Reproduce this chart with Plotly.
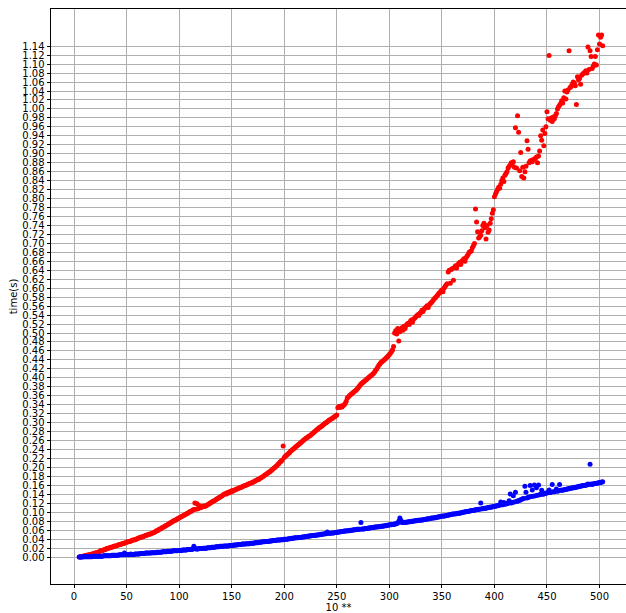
import plotly.graph_objects as go

# x values (problem size index)
x_vals = list(range(5, 504))

# red series, time in milliseconds
red_time_ms = [
    0, 1, 1, 2, 2, 3, 3, 4, 4, 5,
    5, 6, 7, 7, 8, 9, 10, 10, 11, 12,
    14, 14, 15, 16, 17, 17, 19, 20, 20, 21,
    22, 22, 23, 24, 25, 25, 26, 27, 28, 28,
    29, 30, 31, 31, 32, 33, 34, 34, 35, 36,
    37, 38, 38, 39, 40, 41, 42, 43, 44, 45,
    45, 46, 47, 48, 49, 50, 51, 51, 52, 53,
    54, 55, 56, 58, 59, 60, 62, 63, 64, 66,
    67, 68, 70, 71, 72, 74, 75, 77, 78, 80,
    81, 82, 83, 85, 86, 87, 89, 90, 91, 93,
    94, 95, 97, 98, 99, 101, 102, 103, 105, 106,
    121, 107, 119, 108, 115, 110, 111, 112, 114, 113,
    114, 115, 117, 118, 120, 121, 123, 124, 125, 127,
    128, 130, 131, 133, 134, 136, 137, 139, 140, 142,
    141, 144, 143, 146, 145, 148, 147, 149, 150, 151,
    152, 153, 154, 155, 156, 157, 158, 159, 160, 161,
    162, 163, 164, 165, 166, 167, 168, 169, 171, 172,
    173, 174, 176, 177, 179, 180, 182, 184, 185, 187,
    189, 190, 192, 194, 196, 198, 200, 202, 204, 207,
    209, 212, 214, 216, 248, 222, 225, 227, 229, 231,
    233, 236, 238, 240, 242, 244, 246, 248, 250, 252,
    254, 256, 258, 260, 262, 264, 266, 267, 269, 270,
    272, 274, 276, 278, 280, 282, 284, 286, 288, 290,
    291, 293, 295, 297, 299, 300, 302, 304, 306, 307,
    309, 310, 312, 313, 315, 317, 333, 336, 334, 337,
    335, 338, 340, 343, 348, 355, 357, 360, 362, 364,
    366, 368, 370, 372, 374, 377, 380, 383, 386, 388,
    390, 392, 394, 396, 398, 400, 402, 404, 406, 408,
    410, 413, 417, 420, 424, 428, 431, 434, 436, 438,
    440, 442, 444, 447, 449, 452, 455, 458, 462, 470,
    500, 505, 498, 510, 482, 503, 508, 512, 506, 515,
    510, 517, 520, 522, 519, 526, 529, 524, 531, 533,
    536, 538, 541, 539, 544, 546, 551, 548, 553, 556,
    558, 561, 557, 563, 566, 568, 571, 574, 577, 579,
    582, 585, 588, 590, 593, 596, 592, 600, 604, 607,
    610, 636, 640, 611, 642, 644, 618, 647, 650, 645,
    652, 655, 658, 653, 660, 663, 666, 660, 668, 672,
    675, 680, 682, 683, 690, 695, 700, 777, 748, 726,
    712, 715, 718, 728, 740, 745, 735, 710, 740, 725,
    730, 745, 755, 767, 775, 804, 810, 815, 820, 825,
    823, 832, 840, 846, 838, 852, 856, 860, 868, 872,
    875, 880, 878, 882, 870, 958, 868, 985, 948, 862,
    903, 849, 870, 846, 860, 872, 929, 910, 880, 884,
    885, 882, 887, 888, 890, 893, 880, 895, 906, 940,
    930, 953, 918, 945, 960, 994, 978, 1119, 975, 980,
    972, 982, 978, 985, 990, 1000, 1005, 1008, 1012, 1018,
    1013, 1025, 1040, 1022, 1038, 1042, 1130, 1048, 1050, 1055,
    1060, 1058, 1052, 1010, 1072, 1065, 1068, 1055, 1075, 1078,
    1080, 1082, 1085, 1080, 1138, 1088, 1130, 1117, 1090, 1095,
    1100, 1117, 1098, 1132, 1165, 1145, 1160, 1165, 1141,
]

# blue series, time in milliseconds
blue_time_ms = [
    0, 0, 0, 0, 1, 1, 1, 1, 1, 1,
    1, 1, 1, 2, 2, 2, 2, 2, 2, 2,
    2, 2, 2, 3, 3, 3, 3, 3, 3, 3,
    3, 4, 4, 4, 4, 4, 4, 4, 5, 5,
    5, 5, 5, 9, 5, 5, 6, 5, 6, 7,
    6, 6, 6, 7, 7, 7, 7, 7, 8, 8,
    8, 8, 8, 9, 9, 9, 9, 9, 9, 10,
    10, 10, 10, 10, 11, 11, 11, 11, 11, 12,
    12, 12, 12, 12, 13, 13, 13, 13, 13, 14,
    14, 14, 14, 14, 15, 15, 15, 15, 16, 16,
    16, 16, 16, 17, 17, 17, 17, 17, 18, 24,
    19, 18, 18, 18, 19, 19, 19, 19, 20, 20,
    20, 20, 21, 21, 21, 21, 22, 22, 22, 22,
    23, 23, 23, 23, 24, 24, 24, 24, 25, 25,
    25, 25, 25, 26, 26, 26, 26, 27, 27, 27,
    27, 28, 28, 28, 28, 29, 29, 29, 29, 30,
    30, 30, 30, 31, 31, 31, 31, 32, 32, 32,
    32, 33, 33, 33, 34, 34, 34, 35, 35, 35,
    35, 36, 36, 36, 37, 37, 37, 37, 38, 38,
    38, 38, 39, 39, 39, 40, 40, 40, 40, 41,
    41, 41, 42, 42, 42, 43, 43, 43, 43, 44,
    44, 44, 45, 45, 45, 46, 46, 46, 47, 47,
    47, 48, 48, 48, 49, 49, 49, 50, 50, 50,
    51, 51, 51, 52, 52, 52, 56, 53, 53, 53,
    54, 54, 54, 55, 55, 55, 56, 56, 56, 57,
    57, 57, 58, 58, 58, 59, 59, 59, 60, 60,
    60, 61, 61, 61, 62, 62, 62, 62, 77, 63,
    63, 63, 64, 64, 64, 65, 65, 65, 66, 66,
    66, 67, 67, 67, 68, 68, 68, 69, 69, 69,
    70, 70, 70, 71, 71, 72, 72, 72, 73, 73,
    74, 74, 75, 76, 80, 87, 82, 77, 77, 77,
    78, 78, 78, 79, 79, 79, 80, 80, 80, 81,
    81, 81, 82, 82, 82, 83, 83, 83, 84, 84,
    85, 85, 85, 86, 86, 87, 87, 87, 88, 88,
    89, 89, 90, 90, 91, 91, 92, 92, 92, 93,
    93, 94, 94, 95, 95, 96, 96, 96, 97, 97,
    98, 98, 98, 99, 99, 100, 100, 101, 101, 102,
    102, 103, 103, 104, 104, 104, 105, 105, 106, 106,
    107, 107, 121, 108, 108, 109, 109, 109, 110, 110,
    111, 111, 112, 112, 113, 113, 114, 114, 115, 115,
    116, 123, 117, 117, 122, 118, 119, 119, 120, 126,
    141, 121, 122, 137, 123, 145, 124, 125, 126, 127,
    128, 129, 130, 131, 158, 145, 132, 133, 134, 160,
    135, 150, 136, 161, 137, 155, 138, 161, 139, 140,
    149, 140, 141, 142, 143, 143, 144, 150, 144, 145,
    162, 146, 146, 147, 152, 147, 148, 162, 149, 149,
    150, 150, 151, 151, 152, 152, 153, 153, 154, 154,
    155, 155, 156, 156, 157, 157, 158, 158, 159, 159,
    160, 160, 161, 161, 163, 162, 207, 163, 162, 163,
    164, 164, 165, 165, 166, 166, 167, 167, 168,
]

x_tick_vals = [0, 50, 100, 150, 200, 250, 300, 350, 400, 450, 500]
x_tick_text = ["0", "50", "100", "150", "200", "250", "300", "350", "400", "450", "500"]

y_tick_text = [
    "0.00", "0.02", "0.04", "0.06", "0.08", "0.10", "0.12", "0.14", "0.16", "0.18",
    "0.20", "0.22", "0.24", "0.26", "0.28", "0.30", "0.32", "0.34", "0.36", "0.38",
    "0.40", "0.42", "0.44", "0.46", "0.48", "0.50", "0.52", "0.54", "0.56", "0.58",
    "0.60", "0.62", "0.64", "0.66", "0.68", "0.70", "0.72", "0.74", "0.76", "0.78",
    "0.80", "0.82", "0.84", "0.86", "0.88", "0.90", "0.92", "0.94", "0.96", "0.98",
    "1.00", "1.02", "1.04", "1.06", "1.08", "1.10", "1.12", "1.14",
]
y_tick_vals = [float(t) for t in y_tick_text]

n = min(len(x_vals), len(red_time_ms), len(blue_time_ms))
xs = x_vals[:n]
red_s = [v / 1000 for v in red_time_ms[:n]]
blue_s = [v / 1000 for v in blue_time_ms[:n]]

fig = go.Figure()
fig.add_trace(go.Scatter(x=xs, y=red_s, mode="markers",
                         marker=dict(color="#ff0000", size=5, line=dict(width=0)),
                         showlegend=False))
fig.add_trace(go.Scatter(x=xs, y=blue_s, mode="markers",
                         marker=dict(color="#0000ff", size=5, line=dict(width=0)),
                         showlegend=False))

axis_common = dict(
    showgrid=True, gridcolor="#b0b0b0", gridwidth=0.8,
    showline=True, linecolor="black", linewidth=0.8,
    ticks="outside", ticklen=3.5, tickwidth=0.8, tickcolor="black",
    zeroline=False, automargin=False,
    tickfont=dict(family="DejaVu Sans", size=10, color="black"),
)

fig.update_layout(
    width=626, height=613,
    margin=dict(l=51, r=0, t=9, b=29),
    paper_bgcolor="white", plot_bgcolor="white",
    font=dict(family="DejaVu Sans", size=10, color="black"),
    xaxis=dict(range=[-21.9, 525.2], tickmode="array",
               tickvals=x_tick_vals, ticktext=x_tick_text, mirror=True,
               title=dict(text="10 **", standoff=6,
                          font=dict(family="DejaVu Sans", size=10, color="black")),
               **axis_common),
    yaxis=dict(range=[-0.060, 1.223], tickmode="array",
               tickvals=y_tick_vals, ticktext=y_tick_text,
               title=dict(text="time(s)", standoff=2,
                          font=dict(family="DejaVu Sans", size=10, color="black")),
               **axis_common),
)

fig.write_html("out.html",
               config={"displayModeBar": False},
               post_script="document.body.style.margin='0px';document.body.style.overflow='hidden';")
